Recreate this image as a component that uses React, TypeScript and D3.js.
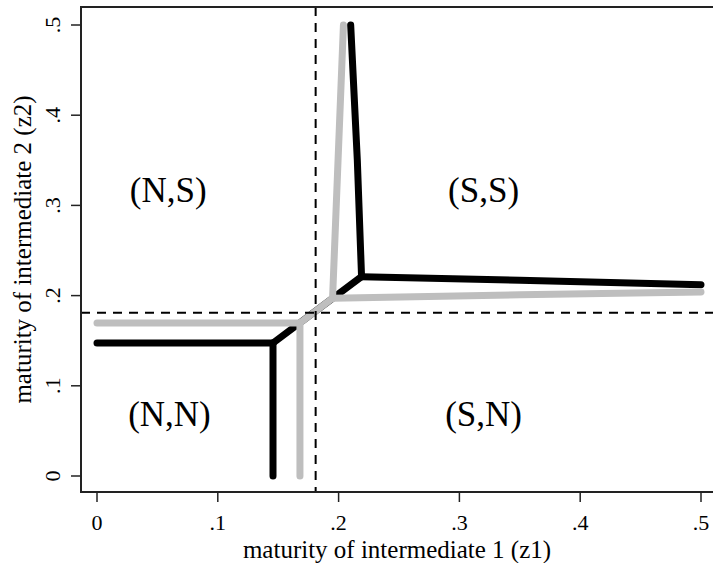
import React from "react";
import * as d3 from "d3";

const W = 713;
const H = 563;

const xTicks = [0, 0.1, 0.2, 0.3, 0.4, 0.5];
const yTicks = [0, 0.1, 0.2, 0.3, 0.4, 0.5];
const tickLabels = ["0", ".1", ".2", ".3", ".4", ".5"];

const thresholdZ1 = 0.181;
const thresholdZ2 = 0.181;

// Black curve branches: [z1, z2]
const blackLeft: [number, number][] = [[0, 0.1475], [0.1457, 0.1475]];
const blackDown: [number, number][] = [[0.1457, 0.1475], [0.1457, 0]];
const blackDiag: [number, number][] = [[0.1457, 0.1475], [0.219, 0.221]];
const blackUp: [number, number][] = [[0.219, 0.221], [0.2155, 0.35], [0.21, 0.5]];
const blackRight: [number, number][] = [[0.219, 0.221], [0.35, 0.217], [0.5, 0.212]];

// Gray curve branches
const grayLeft: [number, number][] = [[0, 0.1696], [0.168, 0.1696]];
const grayDown: [number, number][] = [[0.168, 0.1696], [0.168, 0]];
const grayDiag: [number, number][] = [[0.168, 0.1696], [0.195, 0.197]];
const grayUp: [number, number][] = [[0.195, 0.197], [0.204, 0.5]];
const grayRight: [number, number][] = [[0.195, 0.197], [0.35, 0.201], [0.5, 0.204]];

const regionLabels = ["(N,S)", "(S,S)", "(N,N)", "(S,N)"];
const regionX = [0.059, 0.32, 0.06, 0.32];
const regionY = [0.316, 0.316, 0.068, 0.068];

export default function App() {
  const left = 81, top = 7, bottom = 492;
  const x = d3.scaleLinear().domain([0, 0.5]).range([97, 701]);
  const y = d3.scaleLinear().domain([0, 0.5]).range([476, 25]);
  const line = d3.line<[number, number]>().x(d => x(d[0])).y(d => y(d[1]));
  const font = "'Liberation Serif', 'Times New Roman', serif";

  const black = [blackLeft, blackDown, blackDiag, blackUp, blackRight];
  const gray = [grayLeft, grayDown, grayDiag, grayUp, grayRight];

  return (
    <svg width={W} height={H} style={{ position: "absolute", left: 0, top: 0, background: "#fff" }} fontFamily={font}>
      <rect x={0} y={0} width={W} height={H} fill="#fff" />
      {black.map((seg, i) => (
        <path key={"b" + i} d={line(seg) || ""} fill="none" stroke="#000" strokeWidth={7} strokeLinecap="round" strokeLinejoin="round" />
      ))}
      {gray.map((seg, i) => (
        <path key={"g" + i} d={line(seg) || ""} fill="none" stroke="#bebebe" strokeWidth={7} strokeLinecap="round" strokeLinejoin="round" />
      ))}
      <line x1={x(thresholdZ1)} x2={x(thresholdZ1)} y1={top} y2={bottom} stroke="#000" strokeWidth={2} strokeDasharray="9,7" />
      <line x1={left} x2={W} y1={y(thresholdZ2)} y2={y(thresholdZ2)} stroke="#000" strokeWidth={2} strokeDasharray="9,7" />
      {regionLabels.map((t, i) => (
        <text key={t} x={x(regionX[i])} y={y(regionY[i])} fontSize={35} textAnchor="middle" dominantBaseline="central">{t}</text>
      ))}
      {/* frame */}
      <line x1={left} x2={left} y1={top} y2={bottom} stroke="#222" strokeWidth={2} />
      <line x1={left - 1} x2={W} y1={top} y2={top} stroke="#222" strokeWidth={2} />
      <line x1={left - 1} x2={W} y1={bottom} y2={bottom} stroke="#222" strokeWidth={2} />
      {xTicks.map((t, i) => (
        <g key={"x" + i}>
          <line x1={x(t)} x2={x(t)} y1={bottom} y2={bottom + 10} stroke="#222" strokeWidth={1.5} />
          <text x={x(t)} y={530} fontSize={22} textAnchor="middle">{tickLabels[i]}</text>
        </g>
      ))}
      {yTicks.map((t, i) => (
        <g key={"y" + i}>
          <line x1={left} x2={left - 10} y1={y(t)} y2={y(t)} stroke="#222" strokeWidth={1.5} />
          <text transform={`translate(60,${y(t)}) rotate(-90)`} fontSize={22} textAnchor="middle">{tickLabels[i]}</text>
        </g>
      ))}
      <text x={397} y={558} fontSize={25} textAnchor="middle">maturity of intermediate 1 (z1)</text>
      <text transform={`translate(31,${(top + bottom) / 2}) rotate(-90)`} fontSize={25} textAnchor="middle">maturity of intermediate 2 (z2)</text>
    </svg>
  );
}
